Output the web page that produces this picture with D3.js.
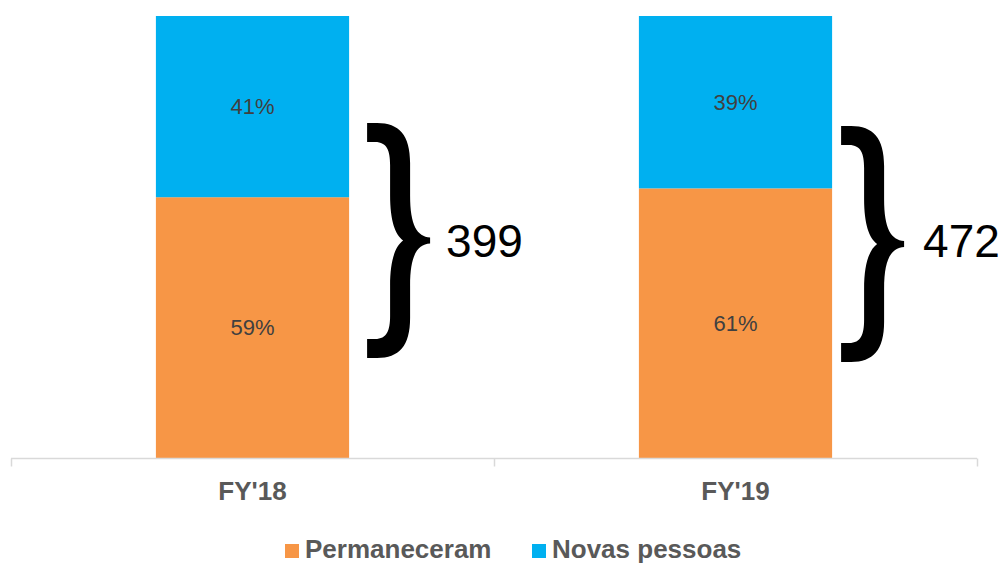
<!DOCTYPE html>
<html>
<head>
<meta charset="utf-8">
<script src="https://cdn.jsdelivr.net/npm/d3@7"></script>
<style>
  html, body { margin: 0; padding: 0; background: #ffffff; }
  svg { display: block; font-family: "Liberation Sans", Arial, sans-serif; }
</style>
</head>
<body>
<svg id="chart" width="1004" height="563"></svg>
<script>
// Data
const categories = ["FY'18", "FY'19"];
const seriesNames = ["Permaneceram", "Novas pessoas"];
const permaneceram = [59, 61];
const novasPessoas = [41, 39];
const totals = [399, 472];
const colors = ["#F79646", "#00B0F0"];

const W = 1004, H = 563;
const margin = { left: 11, right: 27, top: 16, bottom: 105 };
const baseY = H - margin.bottom; // 458

const svg = d3.select("#chart");

// Category bands (axis tick boundaries) and the narrower bars inside them
const xAxisBand = d3.scaleBand().domain(categories).range([margin.left, W - margin.right]).padding(0);
const xBar = d3.scaleBand().domain(categories).range([margin.left, W - margin.right])
  .paddingInner(0.6).paddingOuter(0.3);
const y = d3.scaleLinear().domain([0, 100]).range([baseY, margin.top]);

const rows = categories.map((c, i) => ({ cat: c, Permaneceram: permaneceram[i], "Novas pessoas": novasPessoas[i] }));
const stacked = d3.stack().keys(seriesNames)(rows);

// Bars
stacked.forEach((layer, li) => {
  const g = svg.append("g");
  g.selectAll("rect").data(layer).join("rect")
    .attr("x", d => xBar(d.data.cat))
    .attr("width", xBar.bandwidth())
    .attr("y", d => y(d[1]))
    .attr("height", d => y(d[0]) - y(d[1]))
    .attr("fill", colors[li]);
  g.selectAll("text").data(layer).join("text")
    .attr("x", d => xBar(d.data.cat) + xBar.bandwidth() / 2)
    .attr("y", d => (y(d[0]) + y(d[1])) / 2)
    .attr("dy", "0.35em")
    .attr("text-anchor", "middle")
    .attr("font-size", 22)
    .attr("fill", "#404040")
    .text(d => (d[1] - d[0]) + "%");
});

// Category axis
const axisG = svg.append("g").attr("transform", `translate(0,${baseY + 0.5})`);
const xr = xAxisBand.range();
axisG.append("line").attr("x1", xr[0]).attr("x2", xr[1]).attr("y1", 0).attr("y2", 0)
  .attr("stroke", "#d9d9d9").attr("stroke-width", 1.5);
const tickPos = categories.map(c => xAxisBand(c)).concat([xr[1]]);
axisG.selectAll("line.tick").data(tickPos).join("line").attr("class", "tick")
  .attr("x1", d => Math.round(d) + 0.5).attr("x2", d => Math.round(d) + 0.5)
  .attr("y1", 0).attr("y2", 8)
  .attr("stroke", "#d9d9d9").attr("stroke-width", 1.5);
axisG.selectAll("text").data(categories).join("text")
  .attr("x", d => xAxisBand(d) + xAxisBand.bandwidth() / 2)
  .attr("y", 41)
  .attr("text-anchor", "middle")
  .attr("font-size", 26).attr("font-weight", "bold").attr("fill", "#595959")
  .text(d => d);

// Curly braces with totals
const braceGap = [18, 9];
const braceTop = [123, 126];
const braceBottom = [358, 362];
const labelGap = [79, 82];

function bracePath(h) {
  const m = h / 2;
  return `M0,0 L10,0 C32,0 43,12 43,40 L43,${m - 45} C43,${m - 15} 50,${m - 4} 63,${m - 3}
    L63,${m + 3} C50,${m + 4} 43,${m + 15} 43,${m + 45} L43,${h - 40} C43,${h - 12} 32,${h} 10,${h}
    L0,${h} L0,${h - 19} L8,${h - 19} C20,${h - 19} 23,${h - 28} 23,${h - 42} L23,${m + 45}
    C23,${m + 20} 28,${m + 6} 36,${m} C28,${m - 6} 23,${m - 20} 23,${m - 45} L23,42
    C23,28 20,19 8,19 L0,19 Z`;
}

categories.forEach((c, i) => {
  const bx = xBar(c) + xBar.bandwidth() + braceGap[i];
  const h = braceBottom[i] - braceTop[i];
  svg.append("path")
    .attr("transform", `translate(${bx},${braceTop[i]})`)
    .attr("d", bracePath(h))
    .attr("fill", "#000");
  svg.append("text")
    .attr("x", bx + labelGap[i])
    .attr("y", 240)
    .attr("dy", "0.36em")
    .attr("font-size", 46)
    .attr("fill", "#000")
    .text(totals[i]);
});

// Legend
const legendX = [285, 532];
const legend = svg.append("g");
seriesNames.forEach((name, i) => {
  legend.append("rect").attr("x", legendX[i]).attr("y", 544).attr("width", 14).attr("height", 14)
    .attr("fill", colors[i]);
  legend.append("text").attr("x", legendX[i] + 20).attr("y", 558)
    .attr("font-size", 26).attr("font-weight", "bold").attr("fill", "#595959")
    .text(name);
});
</script>
</body>
</html>
